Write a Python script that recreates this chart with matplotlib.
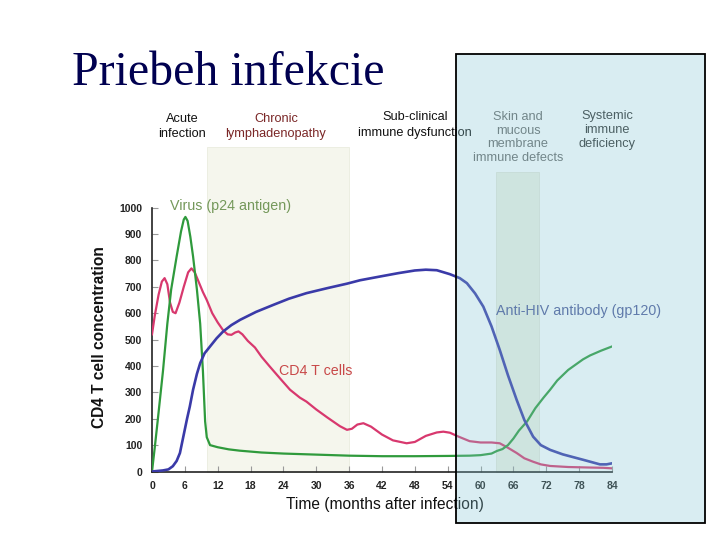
import matplotlib
matplotlib.use("Agg")
import matplotlib.pyplot as plt
from matplotlib.patches import Rectangle

# ---------------- data ----------------
virus_t = [0, 0.5, 1, 2, 2.8, 3.5, 4.5, 5.3, 5.8, 6.1, 6.5, 7.0, 7.5, 8.2, 8.8, 9.3, 9.7,
           10.0, 10.6, 12, 14, 16, 20, 24, 30, 36, 42, 48, 54, 58, 60, 62, 63, 64, 65,
           66, 67, 68.5, 70, 71.5, 72.7, 74, 76, 78.7, 80, 82, 84]
virus_v = [0, 90, 185, 380, 560, 690, 815, 910, 955, 965, 950, 890, 815, 690, 560, 380, 190,
           130, 100, 92, 84, 79, 72, 68, 64, 60, 58, 58, 59, 60, 62, 68, 78, 85, 100,
           125, 155, 190, 240, 280, 310, 345, 385, 425, 440, 458, 474]

cd4_t = [0, 0.5, 1.2, 1.8, 2.3, 2.8, 3.3, 3.8, 4.3, 5.0, 5.8, 6.6, 7.2, 7.8, 8.5, 9.3, 10,
         11, 12, 13, 13.8, 14.5, 15.2, 15.8, 16.5, 17.5, 18.8, 20, 21.5, 23.5, 25.2, 27,
         28.2, 30, 32, 34.3, 35.6, 36.5, 37.5, 38.6, 40, 42, 44, 46.5, 48, 50, 52, 53.2,
         54.4, 56, 58, 60, 62, 63.5, 65, 66.6, 68, 69.6, 71, 72.7, 76, 80, 82.4, 84]
cd4_v = [520, 590, 670, 720, 733, 710, 640, 605, 600, 640, 700, 755, 770, 755, 720, 680, 650,
         600, 565, 535, 520, 518, 527, 531, 520, 495, 470, 435, 398, 350, 310, 280,
         265, 235, 205, 172, 158, 162, 178, 183, 170, 140, 118, 107, 112, 135, 148, 151,
         147, 132, 115, 110, 110, 107, 90, 70, 50, 37, 27, 21, 17, 15, 14, 12]

ab_t = [0, 1, 2, 3, 3.8, 4.5, 5.1, 5.8, 6.4, 6.9, 7.5, 8.2, 8.8, 9.6, 10.6, 11.8, 13, 14.5,
        16.1, 19, 22.2, 25, 28.2, 32, 35.6, 38, 41.6, 45, 48, 50, 52, 54.4, 56.2, 57.5,
        59, 60.5, 62, 63.5, 65, 66.6, 68, 69.6, 71, 72.7, 75, 78.8, 81.8, 83, 84]
ab_v = [0, 2, 4, 8, 20, 40, 70, 140, 200, 246, 310, 370, 411, 448, 474, 505, 531, 555,
        575, 605, 632, 655, 676, 695, 712, 725, 739, 752, 762, 765, 763, 748, 733, 714,
        675, 625, 550, 461, 365, 271, 195, 132, 100, 82, 65, 44, 27, 27, 31]

x_ticks = list(range(0, 85, 6))
y_ticks = list(range(0, 1001, 100))

phase_labels = ["Acute\ninfection", "Chronic\nlymphadenopathy",
                "Sub-clinical\nimmune dysfunction",
                "Skin and\nmucous\nmembrane\nimmune defects",
                "Systemic\nimmune\ndeficiency"]

# ---------------- figure ----------------
W, H = 720, 540
fig = plt.figure(figsize=(7.2, 5.4), dpi=100)
fig.patch.set_facecolor("white")
sans = ["Liberation Sans", "DejaVu Sans"]

def fx(px):
    return px / W

def fy(py):
    return 1 - py / H

ax = fig.add_axes([fx(152), fy(471.5), 460 / W, 263.8 / H])
ax.set_xlim(0, 84)
ax.set_ylim(0, 1000)
ax.set_facecolor("none")

# shaded phase bands
ax.add_patch(Rectangle((10, 0), 26, 1231, facecolor="#f5f6ed", edgecolor="#eaecdf",
                       lw=0.6, clip_on=False, zorder=0))
ax.add_patch(Rectangle((62.8, 0), 7.9, 1137, facecolor="#eff1e4", edgecolor="#e4e6d8",
                       lw=0.6, clip_on=False, zorder=0))

ax.plot(cd4_t, cd4_v, color="#d8386e", lw=1.6, zorder=3)
ax.plot(virus_t, virus_v, color="#2f9a3c", lw=1.6, zorder=4)
ax.plot(ab_t, ab_v, color="#3a3aa8", lw=1.9, zorder=5)

for s in ["top", "right"]:
    ax.spines[s].set_visible(False)
for s in ["left", "bottom"]:
    ax.spines[s].set_color("#222222")
    ax.spines[s].set_linewidth(1.2)

ax.set_xticks(x_ticks)
ax.set_yticks(y_ticks)
ax.tick_params(axis="both", direction="in", length=4, color="#999999", width=0.8)
ax.tick_params(axis="x", pad=7)
ax.tick_params(axis="y", pad=7)
for lab in ax.get_xticklabels() + ax.get_yticklabels():
    lab.set_fontfamily(sans)
    lab.set_fontsize(7.5)
    lab.set_fontweight("bold")
    lab.set_color("#222222")

# curve labels
fig.text(fx(170), fy(206), "Virus (p24 antigen)", color="#74985a", fontsize=10.3,
         family=sans, ha="left", va="center")
fig.text(fx(279), fy(371), "CD4 T cells", color="#c84848", fontsize=10.3,
         family=sans, ha="left", va="center")
fig.text(fx(496), fy(311), "Anti-HIV antibody (gp120)", color="#505a9a", fontsize=10.3,
         family=sans, ha="left", va="center")

# phase headers
hdr = [(182, 126.5, "#111111", 1.3), (276, 126.5, "#7a2626", 1.3),
       (415, 125, "#111111", 1.35), (518, 137.5, "#6a6a6a", 1.15),
       (607, 130, "#333333", 1.25)]
for (px, py, col, ls), txt in zip(hdr, phase_labels):
    fig.text(fx(px), fy(py), txt, color=col, fontsize=9.2, family=sans,
             ha="center", va="center", linespacing=ls, multialignment="center")

# axis titles
fig.text(fx(100), fy(337), "CD4 T cell concentration", rotation=90, fontsize=11.2,
         fontweight="bold", family=sans, ha="center", va="center", color="#111111")
fig.text(fx(385), fy(505), "Time (months after infection)", fontsize=11.2,
         family=sans, ha="center", va="center", color="#111111")

# slide title
fig.text(fx(72), fy(85), "Priebeh infekcie", fontsize=34.5,
         family=["Liberation Serif", "DejaVu Serif"], color="#000050",
         ha="left", va="baseline")

# translucent overlay box
x0, x1, y0, y1 = 456, 705, 54, 523
fig.patches.append(Rectangle((fx(x0), fy(y1)), (x1 - x0) / W, (y1 - y0) / H,
                             transform=fig.transFigure, facecolor="#84c6d4",
                             alpha=0.3, edgecolor="none", zorder=10))
fig.patches.append(Rectangle((fx(x0), fy(y1)), (x1 - x0) / W, (y1 - y0) / H,
                             transform=fig.transFigure, facecolor="none",
                             edgecolor="black", lw=1.3, zorder=11))

fig.savefig("out.png", dpi=100)
